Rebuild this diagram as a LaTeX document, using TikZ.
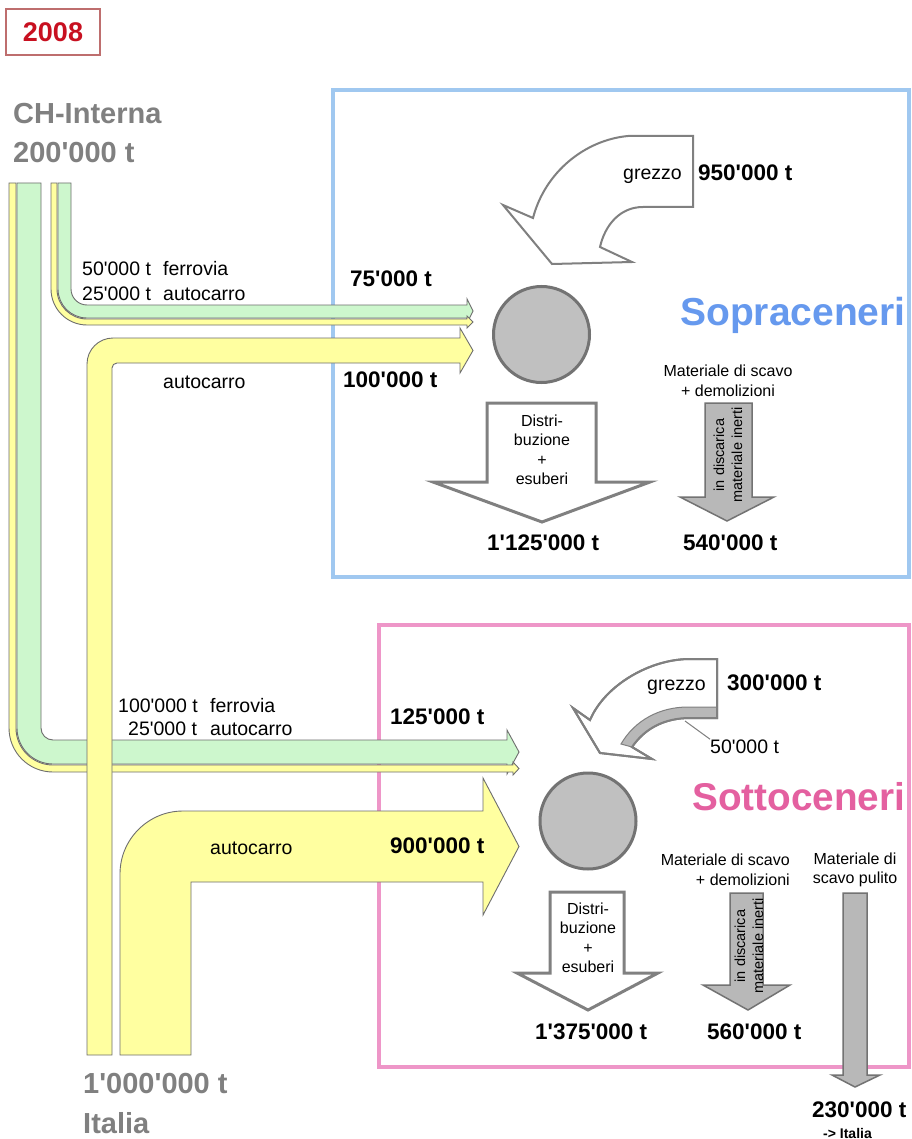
\documentclass[tikz,border=0pt]{standalone}
\usepackage{fontspec}
\setmainfont{Liberation Sans}[Ligatures=TeXOff]
\definecolor{bandgreen}{RGB}{205,247,205}
\definecolor{bandyellow}{RGB}{255,255,160}
\definecolor{bandline}{RGB}{110,110,110}
\definecolor{boxblue}{RGB}{160,200,240}
\definecolor{txtblue}{RGB}{102,153,238}
\definecolor{boxpink}{RGB}{238,150,200}
\definecolor{txtpink}{RGB}{228,96,160}
\definecolor{lblgray}{RGB}{128,128,128}
\definecolor{yearred}{RGB}{200,16,32}
\definecolor{yearbox}{RGB}{190,110,110}
\definecolor{arrline}{RGB}{128,128,128}
\definecolor{grayfill}{RGB}{184,184,184}
\definecolor{circfill}{RGB}{192,192,192}
\tikzset{
  band/.style={draw=bandline, line width=0.9pt, line join=miter},
  gband/.style={band, fill=bandgreen},
  yband/.style={band, fill=bandyellow},
  lbl/.style={inner sep=0pt, anchor=base west, font=\fontsize{19.5}{23}\selectfont},
  num/.style={inner sep=0pt, anchor=base west, font=\bfseries\fontsize{22.5}{26}\selectfont},
  big/.style={inner sep=0pt, anchor=base west, text=lblgray, font=\bfseries\fontsize{29}{34}\selectfont},
  small/.style={inner sep=0pt, align=center, font=\fontsize{16}{19.5}\selectfont},
  rot/.style={inner sep=0pt, align=center, rotate=90, font=\fontsize{14.5}{18}\selectfont},
  whitearrow/.style={fill=white, draw=arrline, line width=3pt, line join=miter},
  grayarrow/.style={fill=grayfill, draw=arrline!90!black, line width=1.5pt, line join=miter},
  curvearrow/.style={fill=white, draw=arrline, line width=2pt, line join=miter},
  hub/.style={circle, minimum size=96pt, inner sep=0pt, fill=circfill, draw=arrline!90!black, line width=3pt},
}
\begin{document}
\begin{tikzpicture}[x=1pt,y=-1pt]
\useasboundingbox (0,0) rectangle (911,1139);
\fill[white] (0,0) rectangle (911,1139);

% year box
\draw[yearbox, line width=1.2pt] (6,9) rectangle (100,55);
\node[inner sep=0pt, text=yearred, font=\bfseries\fontsize{27}{32}\selectfont] (year) at (53,32) {2008};

% region boxes
\draw[boxblue, line width=4pt] (333,90) rectangle (909,577);
\draw[boxpink, line width=4pt] (379,625) rectangle (909,1067);

% source labels
\node[big] (ch1) at (13,124) {CH-Interna};
\node[big] (ch2) at (13,163) {200'000 t};
\node[big] (it1) at (83,1093) {1'000'000 t};
\node[big] (it2) at (83,1133) {Italia};

% lower pair (to Sottoceneri)
\draw[gband] (17,183) -- (41,183) -- (41,728) arc[start angle=180,end angle=90,radius=12]
  -- (507,740) -- (507,730) -- (519,752) -- (507,774) -- (507,764)
  -- (53,764) arc[start angle=90,end angle=180,radius=36] -- cycle;
\draw[yband] (9,183) -- (16,183) -- (16,728) arc[start angle=180,end angle=90,radius=37]
  -- (513,765) -- (513,762) -- (519,768.5) -- (513,775) -- (513,772)
  -- (53,772) arc[start angle=90,end angle=180,radius=44] -- cycle;

% 100'000 autocarro from Italia to Sopraceneri
\draw[yband] (87,1055) -- (87,364) arc[start angle=180,end angle=270,radius=26]
  -- (460,338) -- (460,328) -- (473,350.5) -- (460,373) -- (460,363)
  -- (117,363) arc[start angle=270,end angle=180,radius=5] -- (112,1055) -- cycle;

% upper pair (to Sopraceneri)
\draw[gband] (58,183) -- (71,183) -- (71,289) arc[start angle=180,end angle=90,radius=16]
  -- (467,305) -- (467,299) -- (473,311) -- (467,323) -- (467,318)
  -- (87,318) arc[start angle=90,end angle=180,radius=29] -- cycle;
\draw[yband] (51,183) -- (57,183) -- (57,289) arc[start angle=180,end angle=90,radius=30]
  -- (467,319) -- (467,316) -- (473,322) -- (467,328) -- (467,325)
  -- (87,325) arc[start angle=90,end angle=180,radius=36] -- cycle;

% 900'000 autocarro
\draw[yband] (120,1055) -- (120,874) arc[start angle=180,end angle=270,radius=63]
  -- (483,811) -- (483,778) -- (519,846.5) -- (483,915) -- (483,882)
  -- (191,882) -- (191,1055) -- cycle;

% band labels
\node[lbl] (a1) at (82,276) {50'000 t};
\node[lbl] (a2) at (163,276) {ferrovia};
\node[lbl] (a3) at (82,300) {25'000 t};
\node[lbl] (a4) at (163,300) {autocarro};
\node[lbl] (a5) at (163,388) {autocarro};
\node[lbl] (b1) at (118,712) {100'000 t};
\node[lbl] (b2) at (210,712) {ferrovia};
\node[lbl] (b3) at (128,735) {25'000 t};
\node[lbl] (b4) at (210,735) {autocarro};
\node[lbl] (b5) at (210,854) {autocarro};

\node[num] (n1) at (350,287) {75'000 t};
\node[num] (n2) at (343,387) {100'000 t};
\node[num] (n3) at (390,724) {125'000 t};
\node[num] (n4) at (390,853) {900'000 t};

% hubs
\node[hub] (hubS) at (541.5,334.5) {};
\node[hub] (hubT) at (588,821) {};

% Sopraceneri: curved inflow
\draw[curvearrow] (693,136) -- (628,136) .. controls (585,140) and (545,172) .. (533,218)
  -- (503,205) -- (552,264) -- (632,262) -- (600,247)
  .. controls (605,225) and (620,207) .. (643,207) -- (693,207) -- cycle;
\node[lbl] (g1) at (623,180) {grezzo};
\node[num] (g1n) at (698,181) {950'000 t};

\node[inner sep=0pt, anchor=base west, text=txtblue, font=\bfseries\fontsize{39}{46}\selectfont] (sopra) at (680,325) {Sopraceneri};

% Sopraceneri outflows
\draw[whitearrow] (487,403) -- (596,403) -- (596,482) -- (650,482) -- (542,522) -- (433,482) -- (487,482) -- cycle;
\node[small] (d1) at (542,450) {Distri-\\buzione\\+\\esuberi};
\node[num] (o1) at (487,550) {1'125'000 t};

\node[small] (m1) at (728,381) {Materiale di scavo\\+ demolizioni};
\draw[grayarrow] (705,403) -- (752,403) -- (752,497) -- (774,497) -- (727,521) -- (680,497) -- (705,497) -- cycle;
\node[rot] (r1) at (728,455) {in discarica\\materiale inerti};
\node[num] (o2) at (683,550) {540'000 t};

% Sottoceneri: curved inflow
\draw[curvearrow] (717,659) -- (690,659) .. controls (650,659) and (605,685) .. (590,720)
  -- (573,708) -- (600,753) -- (652,759) -- (632,747)
  .. controls (645,728) and (665,718) .. (690,718) -- (717,718) -- cycle;
\draw[fill=grayfill, draw=arrline, line width=1pt] (717,707) -- (688,707) .. controls (660,707) and (635,720) .. (621,744)
  -- (632,747) .. controls (645,728) and (665,718) .. (690,718) -- (717,718) -- cycle;
\draw[draw=arrline, line width=2pt, line join=miter] (717,659) -- (690,659) .. controls (650,659) and (605,685) .. (590,720)
  -- (573,708) -- (600,753) -- (652,759) -- (632,747)
  .. controls (645,728) and (665,718) .. (690,718) -- (717,718) -- cycle;
\node[lbl] (g2) at (647,690) {grezzo};
\node[num] (g2n) at (727,690) {300'000 t};
\node[lbl] (g3) at (710,753) {50'000 t};
\coordinate (lead1) at (685,721);
\draw[arrline, line width=1pt] (lead1) -- (g3.north west);

\node[inner sep=0pt, anchor=base west, text=txtpink, font=\bfseries\fontsize{38.7}{45}\selectfont] (sotto) at (692,810) {Sottoceneri};

% Sottoceneri outflows
\draw[whitearrow] (550,892) -- (624,892) -- (624,973) -- (658,973) -- (588,1010) -- (517,973) -- (550,973) -- cycle;
\node[small] (d2) at (588,938) {Distri-\\buzione\\+\\esuberi};
\node[num] (o3) at (535,1039) {1'375'000 t};

\node[small, align=right, anchor=east] (m2) at (790,870) {Materiale di scavo\\+ demolizioni};
\draw[grayarrow] (730,893) -- (763,893) -- (763,985) -- (790,985) -- (748,1010) -- (703,985) -- (730,985) -- cycle;
\node[rot] (r2) at (749,946) {in discarica\\materiale inerti};
\node[num] (o4) at (707,1039) {560'000 t};

\node[small] (m3) at (855,870) {Materiale di\\scavo pulito};
\draw[grayarrow] (843,893) -- (867,893) -- (867,1075) -- (880,1075) -- (855,1087) -- (832,1075) -- (843,1075) -- cycle;
\node[num] (o5) at (812,1117) {230'000 t};
\node[inner sep=0pt, anchor=base west, font=\bfseries\fontsize{14}{16}\selectfont] (o6) at (823,1138) {-> Italia};
\end{tikzpicture}
\end{document}
